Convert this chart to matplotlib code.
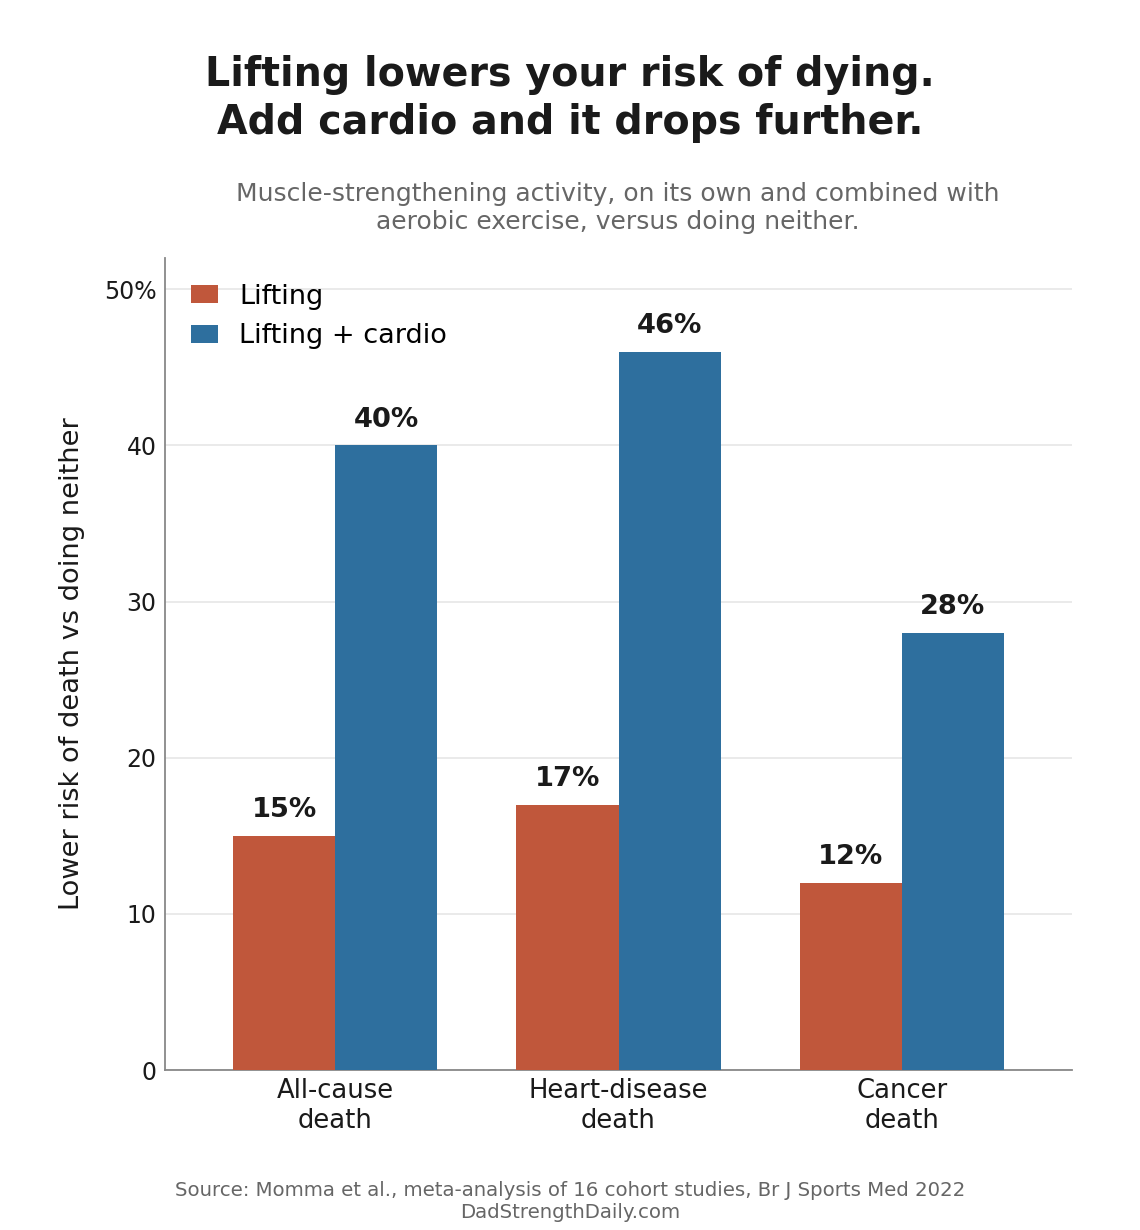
import matplotlib
matplotlib.use("Agg")
import matplotlib.pyplot as plt
import numpy as np

categories = ["All-cause\ndeath", "Heart-disease\ndeath", "Cancer\ndeath"]
lifting = [15, 17, 12]
lifting_cardio = [40, 46, 28]
series_names = ["Lifting", "Lifting + cardio"]
y_ticks = [0, 10, 20, 30, 40, 50]
y_tick_labels = ["0", "10", "20", "30", "40", "50%"]

ORANGE = "#C0573B"
BLUE = "#2E6F9E"
DARK = "#1a1a1a"
GRAY = "#666666"

plt.rcParams["font.family"] = ["DejaVu Sans"]

fig = plt.figure(figsize=(11.4, 12.3), dpi=100)
ax = fig.add_axes([165 / 1140, 1 - 1070 / 1230, (1072 - 165) / 1140, (1070 - 258) / 1230])

x = np.arange(len(categories))
w = 0.36
b1 = ax.bar(x - w / 2, lifting, w, color=ORANGE, label=series_names[0], zorder=3)
b2 = ax.bar(x + w / 2, lifting_cardio, w, color=BLUE, label=series_names[1], zorder=3)

for bars in (b1, b2):
    for r in bars:
        ax.text(r.get_x() + r.get_width() / 2, r.get_height() + 0.8, f"{r.get_height():.0f}%",
                ha="center", va="bottom", fontsize=19.6, fontweight="bold", color=DARK)

ax.set_xlim(-0.6, 2.6)
ax.set_ylim(0, 52)
ax.set_xticks(x)
ax.set_xticklabels(categories, fontsize=18.6, color=DARK)
ax.set_yticks(y_ticks)
ax.set_yticklabels(y_tick_labels, fontsize=17, color=DARK)
ax.tick_params(axis="both", length=0, pad=6)
ax.yaxis.grid(True, color="#e6e6e6", linewidth=1.2, zorder=0)
ax.set_axisbelow(True)
for s in ("top", "right"):
    ax.spines[s].set_visible(False)
for s in ("left", "bottom"):
    ax.spines[s].set_color("#888888")
    ax.spines[s].set_linewidth(1.3)

ax.set_ylabel("Lower risk of death vs doing neither", fontsize=19.6, color=DARK, labelpad=14)

ax.legend(loc="upper left", fontsize=19.5, frameon=False, handlelength=1.0, handleheight=0.65,
          bbox_to_anchor=(0.0, 1.0), borderaxespad=0.55, labelspacing=0.5)

fig.text(0.5, 1 - 99 / 1230, "Lifting lowers your risk of dying.\nAdd cardio and it drops further.",
         ha="center", va="center", fontsize=28.5, fontweight="bold", color=DARK, linespacing=1.27)
fig.text(618 / 1140, 1 - 208 / 1230,
         "Muscle-strengthening activity, on its own and combined with\naerobic exercise, versus doing neither.",
         ha="center", va="center", fontsize=18, color=GRAY, linespacing=1.25)
fig.text(0.5, 1 - 1201 / 1230,
         "Source: Momma et al., meta-analysis of 16 cohort studies, Br J Sports Med 2022\nDadStrengthDaily.com",
         ha="center", va="center", fontsize=14.2, color=GRAY, linespacing=1.2)

fig.savefig("out.png", dpi=100)
